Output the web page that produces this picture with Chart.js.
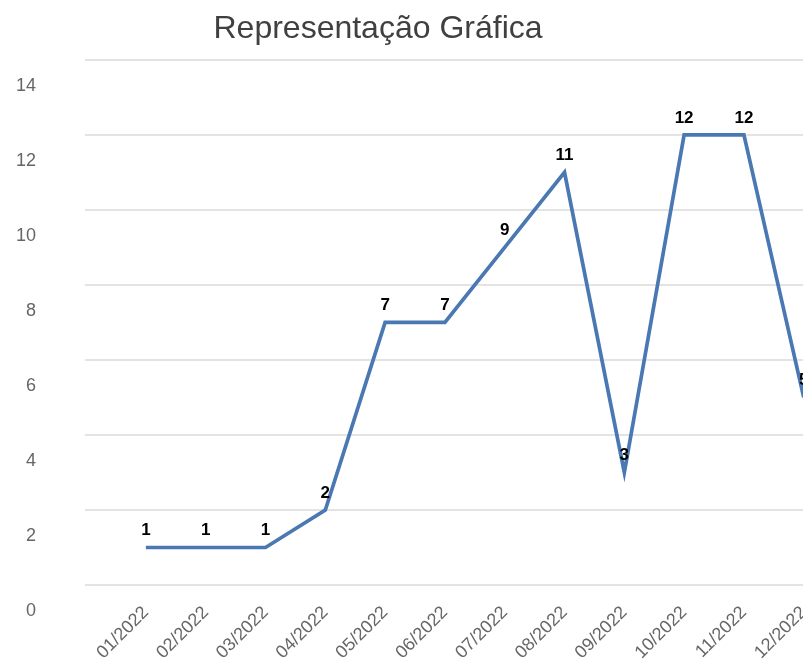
<!DOCTYPE html>
<html>
<head>
<meta charset="utf-8">
<script src="https://cdn.jsdelivr.net/npm/chart.js@4.4.1/dist/chart.umd.min.js"></script>
<style>
  html, body { margin: 0; padding: 0; overflow: hidden; background: #fff; }
  #wrap { position: relative; width: 836px; height: 666px; }
</style>
</head>
<body>
<div id="wrap"><canvas id="graficoMensal"></canvas></div>
<script>
// Meses (eixo X) e quantidades (eixo Y)
const meses = ['01/2022', '02/2022', '03/2022', '04/2022', '05/2022', '06/2022',
               '07/2022', '08/2022', '09/2022', '10/2022', '11/2022', '12/2022'];
const quantidades = [1, 1, 1, 2, 7, 7, 9, 11, 3, 12, 12, 5];
const yMin = 0;
const yMax = 14;
const yStep = 2;

Chart.defaults.font.family = '"Liberation Sans", Arial, sans-serif';

// numbers above each point
const valueLabels = {
  id: 'valueLabels',
  afterDatasetsDraw(chart) {
    const ctx = chart.ctx;
    const meta = chart.getDatasetMeta(0);
    ctx.save();
    ctx.font = 'bold 17px "Liberation Sans", Arial, sans-serif';
    ctx.fillStyle = '#000';
    ctx.textAlign = 'center';
    ctx.textBaseline = 'alphabetic';
    meta.data.forEach((pt, i) => {
      ctx.fillText(String(quantidades[i]), pt.x, pt.y - 12);
    });
    ctx.restore();
  }
};

// move the title box so it sits where the original had it
const titlePlace = {
  id: 'titlePlace',
  afterLayout(chart) {
    const t = chart.titleBlock;
    if (!t) return;
    const w = t.right - t.left;
    const center = 378;
    t.left = center - w / 2;
    t.right = center + w / 2;
  }
};

function initializeChart() {
  const ctx = document.getElementById('graficoMensal').getContext('2d');
  new Chart(ctx, {
    type: 'line',
    data: {
      labels: meses,
      datasets: [{
        label: 'Quantidade',
        data: quantidades,
        borderColor: '#4a78b2',
        backgroundColor: 'transparent',
        borderWidth: 3.7,
        tension: 0,
        pointRadius: 0,
        pointHoverRadius: 0,
        fill: false
      }]
    },
    options: {
      responsive: true,
      maintainAspectRatio: false,
      animation: false,
      layout: { padding: { left: 16, right: 0, top: 0, bottom: 0 } },
      plugins: {
        legend: { display: false },
        tooltip: { enabled: false },
        title: {
          display: true,
          text: 'Representação Gráfica',
          color: '#404040',
          font: { size: 32, weight: 'normal' },
          padding: { top: 7.3, bottom: 11.3 }
        }
      },
      scales: {
        x: {
          offset: true,
          afterFit(scale) { scale.height = 81; },
          grid: { display: false, drawTicks: false },
          border: { display: false },
          ticks: {
            autoSkip: false,
            minRotation: 45,
            maxRotation: 45,
            padding: 17,
            color: '#666',
            font: { size: 18 }
          }
        },
        y: {
          min: yMin,
          max: yMax,
          afterFit(scale) { scale.width = 100; },
          grid: {
            color: '#e3e3e3',
            lineWidth: 2,
            drawTicks: true,
            tickLength: 31
          },
          border: { display: false },
          ticks: {
            stepSize: yStep,
            padding: 49,
            labelOffset: 26,
            color: '#666',
            font: { size: 18 }
          }
        }
      }
    },
    plugins: [valueLabels, titlePlace]
  });
}

document.addEventListener('DOMContentLoaded', initializeChart);
</script>
</body>
</html>
